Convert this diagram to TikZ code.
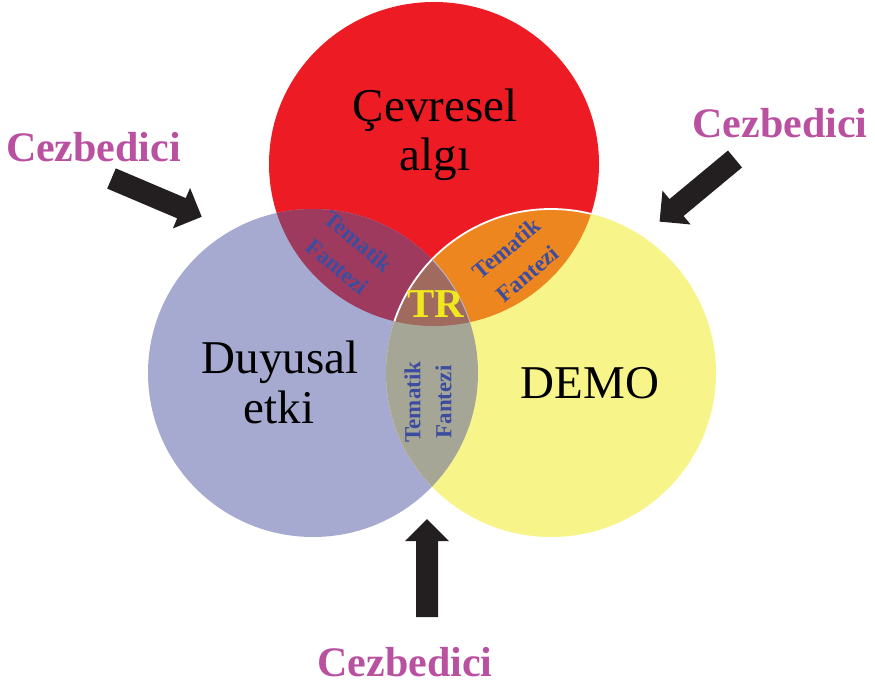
\documentclass[tikz,border=0pt]{standalone}
\usepackage{fontspec}
\setmainfont{Liberation Serif}
\definecolor{cred}{RGB}{237,28,36}
\definecolor{cblue}{RGB}{167,170,208}
\definecolor{cyel}{RGB}{247,244,138}
\definecolor{crb}{RGB}{158,58,94}
\definecolor{cry}{RGB}{238,134,32}
\definecolor{cby}{RGB}{166,166,151}
\definecolor{crby}{RGB}{160,106,94}
\definecolor{ctxtblue}{RGB}{60,77,160}
\definecolor{cmag}{RGB}{185,80,160}
\definecolor{ctr}{RGB}{240,232,30}
\definecolor{carrow}{RGB}{35,31,32}
\newcommand\pathR{(434,164) ellipse [x radius=165, y radius=162]}
\newcommand\pathB{(313,373) ellipse [x radius=165, y radius=164]}
\newcommand\pathY{(551,373) ellipse [x radius=165, y radius=164]}
\tikzset{
  bigtxt/.style={inner sep=0pt, anchor=base, text=black, font=\fontsize{47}{49}\selectfont},
  cez/.style={inner sep=0pt, anchor=base, text=cmag, font=\fontsize{42}{46}\selectfont\bfseries},
  tema/.style={inner sep=0pt, anchor=center, align=center, text=ctxtblue, font=\fontsize{23}{33}\selectfont\bfseries},
  blockarrow/.pic={\fill[carrow] (0,-11) -- (76,-11) -- (76,-22) -- (98,0) -- (76,22) -- (76,11) -- (0,11) -- cycle;}
}
\begin{document}
\begin{tikzpicture}[x=1pt,y=-1pt]
\useasboundingbox (0,0) rectangle (875,685);
% circles
\fill[cred] \pathR;
\fill[cblue] \pathB;
\fill[cyel] \pathY;
\begin{scope}\clip \pathR; \fill[crb] \pathB; \end{scope}
\begin{scope}\clip \pathR; \fill[cry] \pathY; \end{scope}
\begin{scope}\clip \pathB; \fill[cby] \pathY; \end{scope}
\begin{scope}\clip \pathR; \clip \pathB; \fill[crby] \pathY; \end{scope}
% outlines
\begin{scope}\clip \pathR; \draw[white, line width=1.8pt] \pathY; \end{scope}
\begin{scope}\clip \pathR; \clip \pathY; \draw[cblue!80!white, line width=0.8pt] \pathB; \end{scope}
% main labels
\node[bigtxt] (cev1) at (435,121) {Çevresel};
\node[bigtxt] (cev2) at (435,170) {algı};
\node[bigtxt] (duy1) at (280,373) {Duyusal};
\node[bigtxt] (duy2) at (279,423) {etki};
\node[bigtxt] (demo) at (590,398) {DEMO};
% intersections
\node[tema, rotate=-40] (tf1) at (348,254) {Tematik\\Fantezi};
\node[tema, rotate=40] (tf2) at (517,261) {Tematik\\Fantezi};
\node[tema, rotate=90, font=\fontsize{23}{31}\selectfont\bfseries] (tf3) at (428,402) {Tematik\\Fantezi};
\node[inner sep=0pt, anchor=base, text=ctr, font=\fontsize{41}{45}\selectfont\bfseries] (tr) at (435.5,317) {TR};
% Cezbedici
\node[cez] (cz1) at (93.5,161) {Cezbedici};
\node[cez] (cz2) at (780,137) {Cezbedici};
\node[cez] (cz3) at (405,676) {Cezbedici};
% arrows
\pic[shift={(111.5,178.5)}, rotate=-23] {blockarrow};
\pic[shift={(735,159)}, rotate=-140.3] {blockarrow};
\pic[shift={(427,617)}, rotate=90] {blockarrow};
\end{tikzpicture}
\end{document}
